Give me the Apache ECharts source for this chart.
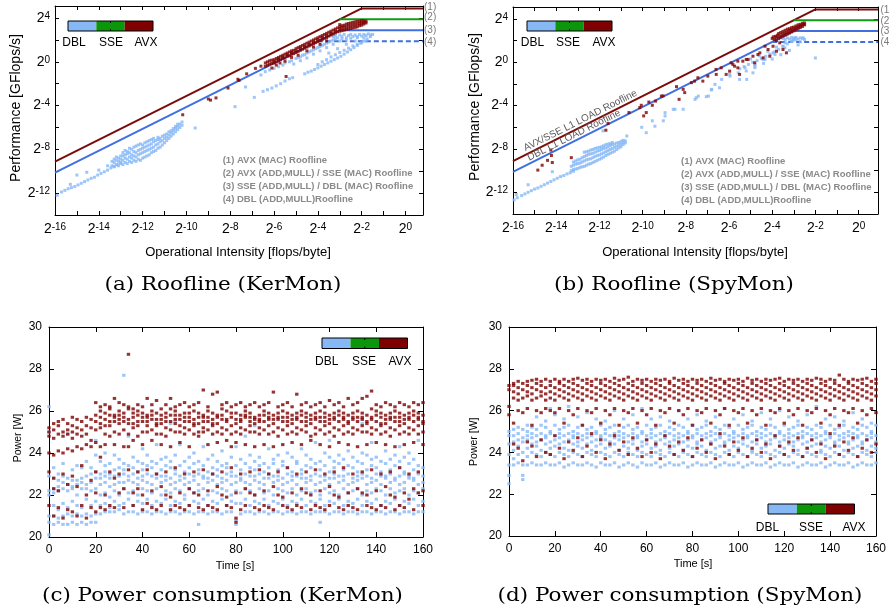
<!DOCTYPE html>
<html>
<head>
<meta charset="utf-8">
<script src="https://cdn.jsdelivr.net/npm/echarts@6/dist/echarts.min.js"></script>
<style>
  html, body { margin: 0; padding: 0; background: #ffffff; }
  #chart { width: 889px; height: 614px; }
</style>
</head>
<body>
<div id="chart"></div>
<script>
// ---------- legend entries ----------
const seriesNames = ['DBL', 'SSE', 'AVX'];
const seriesColors = ['#86b8f6', '#0b960b', '#7e0000'];

// ---------- roofline model (log2 units) ----------
// ceilings in log2 GFlops/s: (1) AVX MAC, (2) AVX ADD,MULL / SSE MAC, (3) SSE ADD,MULL / DBL MAC, (4) DBL ADD,MULL
const roofCeilLog2 = [4.88, 3.88, 2.88, 1.88];
// L1 load bandwidth in log2 GB/s: AVX/SSE, DBL
const roofBwLog2 = [6.88, 5.88];
const roofNotes = [
  '(1) AVX (MAC) Roofline',
  '(2) AVX (ADD,MULL) / SSE (MAC) Roofline',
  '(3) SSE (ADD,MULL) / DBL (MAC) Roofline',
  '(4) DBL (ADD,MULL)Roofline'
];
const roofTags = ['(1)', '(2)', '(3)', '(4)'];

// ---------- KerMon roofline samples: [log2 intensity, log2 GFlops/s] ----------
const kerRoofDbl = [
  [-15.9,-12.2],[-15.7,-11.9],[-15.55,-11.75],[-15.4,-11.6],[-15.25,-11.5],[-15.1,-11.4],[-14.95,-11.25],[-14.8,-11.1],
  [-14.65,-10.95],[-14.5,-10.8],[-14.35,-10.65],[-14.2,-10.55],[-14.05,-10.35],[-13.9,-10.2],[-13.75,-10.05],[-13.6,-9.9],
  [-13.45,-9.7],[-13.3,-9.55],[-13.15,-9.4],[-13.0,-9.2],
  [-15.3,-11.2],[-15.0,-10.35],[-14.55,-10.1],[-14.0,-9.9],[-13.6,-9.5],
  [-13.4,-9.5],[-13.4,-9.1],[-13.3,-9.6],[-13.3,-9.2],[-13.3,-8.9],[-13.2,-9.4],[-13.2,-9.0],[-13.2,-8.7],
  [-13.1,-9.5],[-13.1,-9.1],[-13.1,-8.8],[-13.0,-9.3],[-13.0,-8.9],[-13.0,-8.6],
  [-12.9,-9.4],[-12.9,-9.0],[-12.9,-8.6],[-12.9,-8.3],[-12.8,-9.2],[-12.8,-8.8],[-12.8,-8.5],[-12.8,-8.1],
  [-12.7,-9.3],[-12.7,-8.9],[-12.7,-8.4],[-12.7,-8.2],[-12.6,-9.1],[-12.6,-8.7],[-12.6,-8.3],[-12.6,-7.9],
  [-12.5,-9.2],[-12.5,-8.8],[-12.5,-8.5],[-12.5,-8.0],[-12.4,-9.0],[-12.4,-8.6],[-12.4,-8.2],[-12.4,-7.8],
  [-12.3,-9.1],[-12.3,-8.7],[-12.3,-8.3],[-12.3,-7.7],[-12.2,-8.9],[-12.2,-8.5],[-12.2,-8.1],[-12.2,-7.6],
  [-12.1,-9.0],[-12.1,-8.4],[-12.1,-8.0],[-12.1,-7.5],[-12.0,-8.8],[-12.0,-8.3],[-12.0,-7.9],[-12.0,-7.6],
  [-11.9,-8.7],[-11.9,-8.2],[-11.9,-7.8],[-11.9,-7.4],[-11.8,-8.6],[-11.8,-8.1],[-11.8,-7.7],[-11.8,-7.3],
  [-11.7,-8.5],[-11.7,-8.0],[-11.7,-7.6],[-11.7,-7.2],[-11.6,-8.3],[-11.6,-7.9],[-11.6,-7.5],[-11.6,-7.1],
  [-11.5,-8.2],[-11.5,-7.8],[-11.5,-7.3],[-11.5,-7.0],[-11.4,-8.1],[-11.4,-7.6],[-11.4,-7.2],
  [-11.3,-7.9],[-11.3,-7.5],[-11.3,-7.1],[-11.3,-6.9],[-11.2,-7.8],[-11.2,-7.3],[-11.2,-7.0],
  [-11.1,-7.6],[-11.1,-7.2],[-11.1,-6.8],[-11.0,-7.4],[-11.0,-7.0],[-11.0,-6.7],
  [-10.9,-7.2],[-10.9,-6.9],[-10.9,-6.6],[-10.8,-7.0],[-10.8,-6.7],[-10.8,-6.4],
  [-10.7,-6.8],[-10.7,-6.5],[-10.7,-6.3],[-10.6,-6.6],[-10.6,-6.3],[-10.6,-6.1],
  [-10.5,-6.4],[-10.5,-6.1],[-10.5,-5.9],[-10.4,-6.2],[-10.4,-5.9],[-10.4,-5.7],
  [-10.3,-6.0],[-10.3,-5.7],[-10.2,-5.8],[-10.2,-5.5],
  [-9.6,-6.05],[-7.78,-4.1],[-7.3,-2.3],[-6.9,-3.25],
  [-6.5,-2.7],[-6.3,-2.55],[-6.1,-2.4],[-5.9,-2.2],[-5.7,-2.0],[-5.5,-1.75],[-5.3,-1.55],[-5.15,-1.45],
  [-4.6,-1.1],[-4.45,-0.95],[-4.3,-0.85],[-4.15,-0.7],[-4.0,-0.55],[-3.85,-0.4],[-3.7,-0.25],[-3.55,-0.1],
  [-3.4,0.05],[-3.25,0.2],[-3.1,0.35],[-2.95,0.5],[-2.8,0.7],[-2.65,0.9],[-2.5,1.1],[-2.35,1.3],
  [-2.2,1.5],[-2.05,1.7],[-1.9,1.9],[-1.75,2.1],[-1.6,2.3],
  [-6.6,-1.2],[-6.4,-0.9],[-6.2,-0.75],[-6.0,-0.6],[-5.8,-0.45],[-5.6,-0.3],[-5.5,-0.1],[-5.3,0.0],
  [-5.2,0.1],[-5.0,0.3],[-4.9,0.4],[-4.8,0.45],[-4.7,0.6],[-4.6,0.65],[-4.5,0.8],[-4.4,0.9],
  [-4.3,1.0],[-4.2,1.1],[-4.1,1.2],[-4.0,1.3],[-3.9,1.4],[-3.8,1.5],[-3.7,1.6],[-3.6,1.7],
  [-3.5,1.8],[-3.4,1.9],[-3.3,2.0],[-3.2,2.1],
  [-5.1,-0.2],[-4.8,0.1],[-4.5,0.35],[-4.2,0.7],[-3.9,1.0],[-3.6,1.3],[-3.3,1.6],[-3.0,1.9],[-2.7,2.0],
  [-4.0,-0.25],[-3.8,0.0],[-3.6,0.2],[-3.4,0.45],[-3.2,0.65],[-3.0,0.85],[-2.8,1.05],[-2.6,1.25],
  [-2.4,1.45],[-2.2,1.6],[-2.0,1.75],[-1.8,1.9],[-3.5,0.8],[-3.1,1.2],[-2.7,1.6],[-2.3,1.9],
  [-3.3,2.3],[-3.2,2.4],[-3.1,2.2],[-3.0,2.45],[-2.9,2.3],[-2.8,2.5],[-2.7,2.2],[-2.6,2.4],
  [-2.5,2.5],[-2.4,2.3],[-2.3,2.45],[-2.2,2.2],[-2.1,2.5],[-2.0,2.35],[-1.9,2.5],[-1.8,2.4],
  [-1.7,2.55],[-1.6,2.45],[-1.5,2.5],[-2.9,2.1],[-2.5,2.15],[-2.2,2.3],[-1.9,2.2]
];
const kerRoofAvx = [
  [-10.17,-4.84],[-9.0,-3.4],[-8.9,-3.5],[-8.65,-3.3],[-8.1,-2.4],[-7.65,-1.6],[-7.6,-1.7],[-7.25,-1.1],
  [-6.85,-0.6],[-6.6,-0.4],[-6.1,-0.57],[-5.45,-1.34],[-5.73,-0.11],
  [-6.4,-0.4],[-6.4,-0.1],[-6.3,-0.3],[-6.3,0.0],[-6.2,-0.2],[-6.2,0.1],[-6.1,-0.15],[-6.1,0.15],
  [-6.0,-0.1],[-6.0,0.2],[-6.0,0.0],[-5.9,0.0],[-5.9,0.3],[-5.8,0.1],[-5.8,0.4],[-5.8,0.25],
  [-5.7,0.2],[-5.7,0.5],[-5.6,0.3],[-5.6,0.6],[-5.6,0.45],[-5.5,0.35],[-5.5,0.7],
  [-5.4,0.5],[-5.4,0.8],[-5.4,0.65],[-5.3,0.55],[-5.3,0.9],[-5.2,0.7],[-5.2,1.0],[-5.2,0.85],
  [-5.1,0.75],[-5.1,1.05],[-5.0,0.85],[-5.0,1.2],[-5.0,1.0],[-4.9,0.95],[-4.9,1.3],
  [-4.8,1.05],[-4.8,1.4],[-4.8,1.2],[-4.7,1.15],[-4.7,1.5],[-4.6,1.25],[-4.6,1.6],[-4.6,1.4],
  [-4.5,1.35],[-4.5,1.7],[-4.4,1.45],[-4.4,1.8],[-4.4,1.6],[-4.3,1.55],[-4.3,1.9],
  [-4.2,1.65],[-4.2,2.0],[-4.2,1.8],[-4.1,1.75],[-4.1,2.1],[-4.0,1.85],[-4.0,2.2],[-4.0,2.0],
  [-3.9,1.95],[-3.9,2.3],[-3.8,2.05],[-3.8,2.4],[-3.8,2.2],[-3.7,2.15],[-3.7,2.5],
  [-3.6,2.2],[-3.6,2.6],[-3.6,2.4],[-3.5,2.35],[-3.5,2.7],[-3.4,2.45],[-3.4,2.8],[-3.4,2.6],
  [-3.3,2.55],[-3.3,2.9],[-3.2,2.65],[-3.2,3.0],[-3.2,2.8],[-3.1,2.75],[-3.1,3.1],
  [-3.0,2.8],[-3.0,3.2],[-3.0,3.4],[-3.0,3.0],[-2.9,2.85],[-2.9,3.3],[-2.9,3.1],
  [-2.8,2.9],[-2.8,3.35],[-2.8,3.15],[-2.7,2.95],[-2.7,3.45],[-2.7,3.2],[-2.6,3.0],[-2.6,3.5],[-2.6,3.25],
  [-2.5,3.05],[-2.5,3.55],[-2.5,3.3],[-2.4,3.1],[-2.4,3.6],[-2.4,3.35],[-2.3,3.15],[-2.3,3.65],[-2.3,3.4],
  [-2.2,3.2],[-2.2,3.7],[-2.2,3.45],[-2.1,3.3],[-2.1,3.7],[-2.1,3.5],[-2.0,3.35],[-2.0,3.75],[-2.0,3.55],
  [-1.9,3.45],[-1.9,3.75],[-1.9,3.6],[-1.8,3.55],[-1.8,3.7],
  [-5.9,-0.3],[-5.5,0.05],[-5.2,0.4],[-4.9,0.6],[-4.5,1.0],[-4.2,1.35],[-3.9,1.6],[-3.6,1.9]
];

// ---------- SpyMon roofline samples: [log2 intensity, log2 GFlops/s] ----------
const spyRoofDbl = [
  [-15.95,-12.7],[-15.8,-12.5],[-15.6,-12.3],[-15.45,-12.15],[-15.3,-12.0],[-15.15,-11.85],[-15.0,-11.7],
  [-14.85,-11.6],[-14.7,-11.45],[-14.55,-11.3],[-14.4,-11.15],[-14.25,-11.0],[-14.1,-10.85],[-13.95,-10.7],
  [-13.8,-10.55],[-13.65,-10.45],[-13.5,-10.3],[-13.35,-10.2],[-13.2,-10.05],
  [-15.3,-11.3],[-14.18,-10.1],[-15.85,-12.2],
  [-13.3,-10.0],[-13.3,-9.6],[-13.2,-9.9],[-13.2,-9.5],[-13.2,-9.2],[-13.1,-9.85],[-13.1,-9.4],[-13.1,-9.1],
  [-13.0,-9.8],[-13.0,-9.35],[-13.0,-9.0],[-12.9,-9.7],[-12.9,-9.3],[-12.9,-8.95],[-12.8,-9.65],[-12.8,-9.2],[-12.8,-8.8],
  [-12.7,-9.6],[-12.7,-9.1],[-12.7,-8.7],[-12.7,-8.3],[-12.6,-9.5],[-12.6,-9.0],[-12.6,-8.6],[-12.6,-8.25],
  [-12.5,-9.4],[-12.5,-8.95],[-12.5,-8.5],[-12.5,-8.2],[-12.4,-9.35],[-12.4,-8.9],[-12.4,-8.45],[-12.4,-8.1],
  [-12.3,-9.25],[-12.3,-8.8],[-12.3,-8.4],[-12.3,-8.05],[-12.2,-9.15],[-12.2,-8.7],[-12.2,-8.3],[-12.2,-7.95],
  [-12.1,-9.05],[-12.1,-8.6],[-12.1,-8.2],[-12.1,-7.9],[-12.0,-8.95],[-12.0,-8.55],[-12.0,-8.15],[-12.0,-7.85],
  [-11.9,-8.85],[-11.9,-8.45],[-11.9,-8.05],[-11.9,-7.8],[-11.8,-8.75],[-11.8,-8.35],[-11.8,-7.95],[-11.8,-7.7],
  [-11.7,-8.6],[-11.7,-8.25],[-11.7,-7.9],[-11.7,-7.6],[-11.6,-8.5],[-11.6,-8.15],[-11.6,-7.8],[-11.6,-7.55],
  [-11.5,-8.4],[-11.5,-8.05],[-11.5,-7.7],[-11.5,-7.5],[-11.4,-8.3],[-11.4,-7.95],[-11.4,-7.6],[-11.4,-7.4],
  [-11.3,-8.2],[-11.3,-7.85],[-11.3,-7.55],[-11.2,-8.05],[-11.2,-7.75],[-11.2,-7.45],
  [-11.1,-7.9],[-11.1,-7.65],[-11.1,-7.4],[-11.0,-7.8],[-11.0,-7.55],[-11.0,-7.3],
  [-10.9,-7.6],[-10.9,-7.4],[-10.9,-7.2],[-10.8,-7.45],[-10.8,-7.25],
  [-11.83,-6.33],[-10.73,-6.8],[-10.04,-6.0],[-9.83,-6.5],[-9.55,-5.4],[-9.43,-5.9],
  [-9.04,-5.4],[-8.96,-4.65],[-8.96,-4.95],[-8.5,-4.34],[-8.58,-4.34],[-8.12,-4.34],[-7.57,-3.42],[-7.51,-3.27],
  [-7.42,-3.12],[-7.05,-3.17],[-6.95,-3.12],[-6.8,-2.5],[-6.82,-2.55],[-6.65,-2.04],[-6.44,-2.35],[-6.34,-1.58],
  [-5.97,-1.12],[-5.95,-1.28],[-5.57,-0.97],[-5.51,-1.58],[-5.26,-0.51],[-5.18,-1.58],[-4.89,-0.97],[-4.8,-0.2],
  [-4.8,-0.36],[-4.42,0.26],[-4.33,0.26],[-3.96,0.87],[-3.87,0.72],[-3.5,1.48],[-3.41,1.33],[-3.1,1.94],
  [-3.04,2.1],[-2.95,2.25],[-2.56,2.25],[-2.0,0.4],
  [-5.5,-0.6],[-5.3,-0.4],[-5.1,-0.2],[-4.9,0.0],[-4.7,0.15],[-4.5,0.35],[-4.3,0.55],[-4.1,0.75],
  [-3.9,0.95],[-3.7,1.2],[-3.5,1.45],[-3.3,1.7],[-3.1,1.95],[-2.9,2.1],
  [-5.2,-0.8],[-4.8,-0.5],[-4.4,-0.1],[-4.0,0.3],[-3.6,0.7],[-3.2,1.1],[-2.8,1.6],[-2.7,1.9],
  [-5.0,0.3],[-4.6,0.6],[-4.2,1.0],[-3.8,1.4],[-3.4,1.8],[-3.0,2.05],
  [-3.7,2.15],[-3.5,2.2],[-3.4,2.1],[-3.3,2.25],[-3.2,2.15],[-3.1,2.3],[-3.0,2.2],[-2.9,2.3],
  [-2.8,2.15],[-2.7,2.25],[-2.6,2.2],[-2.5,2.1]
];
const spyRoofAvx = [
  [-14.85,-9.95],[-14.65,-9.5],[-14.4,-9.05],[-14.22,-8.6],[-14.18,-9.25],[-14.25,-8.1],[-13.3,-8.8],
  [-11.7,-6.27],[-11.6,-5.65],[-10.63,-4.64],[-10.13,-4.18],[-10.06,-3.97],[-9.95,-4.95],[-9.83,-4.64],
  [-9.71,-3.67],[-9.55,-3.97],[-9.4,-3.58],[-9.13,-3.12],[-9.05,-3.1],[-8.43,-2.25],[-8.12,-2.5],[-8.31,-3.42],
  [-8.05,-2.8],[-7.74,-1.88],[-7.59,-1.74],[-7.44,-1.43],[-7.21,-1.74],[-6.98,-1.28],[-6.59,-1.12],[-6.36,-0.51],
  [-6.13,-1.12],[-5.97,-0.82],[-5.82,-0.2],[-5.59,-0.51],[-5.36,0.1],[-5.51,-1.12],[-5.12,0.26],[-4.89,0.56],
  [-4.81,-0.05],[-4.57,0.87],[-4.42,0.41],[-4.19,1.18],[-4.11,0.56],[-3.96,1.48],[-3.8,1.02],[-3.65,1.79],
  [-3.5,1.18],[-3.34,0.87],[-6.6,-0.66],[-5.9,-0.05],[-5.74,-0.36],[-5.59,0.1],[-5.2,0.26],[-4.66,0.72],[-4.33,1.48],
  [-4.0,2.2],[-3.95,2.35],[-3.9,2.1],[-3.85,2.4],[-3.8,2.0],[-3.8,2.3],[-3.75,2.5],[-3.7,2.2],[-3.7,2.65],
  [-3.65,2.4],[-3.6,2.3],[-3.6,2.75],[-3.55,2.55],[-3.5,2.4],[-3.5,2.85],[-3.45,2.65],[-3.4,2.5],[-3.4,2.95],
  [-3.35,2.75],[-3.3,2.6],[-3.3,3.05],[-3.25,2.85],[-3.2,2.7],[-3.2,3.1],[-3.15,2.95],[-3.1,2.8],[-3.1,3.2],
  [-3.05,3.0],[-3.0,2.9],[-3.0,3.25],[-2.95,3.1],[-2.9,3.0],[-2.9,3.35],[-2.85,3.2],[-2.8,3.1],[-2.8,3.45],
  [-2.75,3.3],[-2.7,3.2],[-2.7,3.5],[-2.65,3.4],[-2.6,3.3],[-2.6,3.6],[-2.55,3.5],[-2.5,3.45],[-2.5,3.62]
];

// ---------- power traces: each row is [time s, watts, watts, ...] ----------
const kerPowerDbl = [
  [0,20.1,20.7,21.0,22.0,22.2,22.9,25.0,26.2],[2,20.6,21.0,21.5,22.1,22.3,22.8,23.3],[4,20.7,20.9,21.3,22.2,22.4,22.7,23.0],
  [6,20.6,21.0,21.6,22.3,22.6,22.9,23.5],[8,20.6,21.1,21.4,22.2,22.5,22.8,24.9],[10,20.7,21.0,21.7,22.3,22.4,22.7,23.2],
  [12,20.6,21.1,21.5,22.0,22.5,22.7,23.4],[14,20.7,21.0,21.4,22.3,22.6,22.8,23.3],[16,20.6,21.1,21.8,22.3,22.5,22.9,23.6],
  [18,20.7,21.0,21.5,22.2,22.6,23.0,23.3],[20,20.7,21.1,21.7,22.3,22.8,23.1,23.9,24.6],[22,21.1,21.5,22.0,22.5,22.8,23.0,23.6],
  [24,21.2,21.6,22.1,22.6,22.9,23.1,23.4,24.0],[26,21.2,21.4,21.9,22.4,22.8,23.0,23.5],[28,21.2,21.7,22.2,22.5,22.9,23.2,23.9],
  [30,21.3,21.5,22.0,22.6,22.9,23.3,23.7],[32,21.1,21.6,22.3,22.6,23.0,23.2,23.5,27.7],[34,21.2,21.8,22.1,22.7,22.9,23.4,24.8],
  [36,21.2,21.5,22.2,22.6,23.0,23.3,23.8],[38,21.1,21.7,22.0,22.5,22.8,23.1,23.6],[40,21.2,21.6,22.3,22.7,22.9,23.2,23.5,24.2],
  [42,21.2,21.8,22.2,22.6,23.0,23.4,23.9],[44,21.1,21.5,22.1,22.5,22.9,23.3,23.6],[46,21.2,21.7,22.3,22.8,23.0,23.5,24.4],
  [48,21.2,21.6,22.0,22.6,22.9,23.2,23.7],[50,21.1,21.8,22.2,22.7,22.9,23.4,23.8],[52,21.2,21.5,22.1,22.5,22.8,23.3,23.6,25.4],
  [54,21.2,21.7,22.3,22.6,23.0,23.2,23.9,25.5],[56,21.1,21.6,22.2,22.7,22.9,23.4,24.4],[58,21.2,21.8,22.0,22.5,22.8,23.1,23.6],
  [60,21.2,21.5,22.3,22.6,23.0,23.3,23.8],[62,21.1,21.7,22.1,22.7,22.9,23.5,24.0],[64,20.6,21.2,21.6,22.2,22.5,23.0,23.2,23.6],
  [66,21.2,21.8,22.3,22.8,22.9,23.4,24.3],[68,21.1,21.5,22.0,22.6,22.8,23.1,23.7],[70,21.2,21.7,22.2,22.7,23.0,23.3,23.9],
  [72,21.2,21.6,22.1,22.5,22.9,23.2,23.6],[74,21.1,21.8,22.3,22.6,22.8,23.4,24.1],[76,21.2,21.5,22.2,22.7,23.0,23.3,23.5],
  [78,21.2,21.7,22.0,22.5,22.9,23.1,23.8],[80,20.6,20.8,21.6,22.2,22.6,22.9,23.4,24.3],[82,21.1,21.6,22.1,22.7,22.8,23.2,23.7],
  [84,21.2,21.8,22.3,22.6,23.0,23.5,24.8],[86,21.2,21.5,22.2,22.5,22.9,23.3,23.9],[88,21.1,21.7,22.0,22.7,22.9,23.2,23.6,25.3],
  [90,21.2,21.6,22.3,22.6,23.0,23.4,23.8],[92,21.2,21.8,22.1,22.5,22.8,23.1,23.5],[94,21.1,21.5,22.2,22.8,23.0,23.3,24.2],
  [96,21.2,21.7,22.0,22.6,22.9,23.5,23.7],[98,21.2,21.6,22.3,22.7,22.9,23.2,23.9],[100,21.1,21.8,22.2,22.5,22.8,23.4,23.6],
  [102,21.2,21.5,22.1,22.6,23.0,23.3,24.0],[104,21.2,21.7,22.3,22.7,22.9,23.1,23.8],[106,21.1,21.6,22.0,22.5,22.9,23.5,23.6],
  [108,21.2,21.8,22.2,22.8,23.0,23.2,24.2],[110,21.2,21.5,22.3,22.6,22.8,23.4,23.9],[112,21.1,21.7,22.1,22.7,22.9,23.3,23.7],
  [114,21.2,21.6,22.2,22.5,23.0,23.5,24.5],[116,20.7,21.2,21.8,22.0,22.6,22.9,23.2,23.6],[118,21.2,21.5,22.3,22.7,22.9,23.4,24.0],
  [120,21.1,21.7,22.1,22.5,22.8,23.1,23.8,24.6],[122,21.2,21.6,22.2,22.8,23.0,23.3,23.6],[124,21.2,21.8,22.0,22.6,22.9,23.5,23.9],
  [126,21.1,21.5,22.3,22.7,22.9,23.2,23.7],[128,21.2,21.7,22.1,22.5,23.0,23.4,24.1],[130,21.2,21.6,22.2,22.6,22.8,23.3,23.8],
  [132,21.1,21.8,22.3,22.7,22.9,23.1,23.6],[134,21.2,21.5,22.0,22.8,23.0,23.5,24.0,25.4],[136,21.2,21.7,22.2,22.5,22.9,23.2,23.9],
  [138,21.1,21.6,22.1,22.6,22.8,23.4,23.7,24.5],[140,21.2,21.8,22.3,22.7,23.0,23.3,23.8],[142,21.2,21.5,22.2,22.5,22.9,23.1,23.6],
  [144,21.1,21.7,22.0,22.8,22.9,23.5,24.1],[146,21.2,21.6,22.3,22.6,23.0,23.2,23.7],[148,21.2,21.8,22.1,22.7,22.8,23.4,23.9],
  [150,21.1,21.5,22.2,22.5,22.9,23.3,23.6,24.3],[152,21.2,21.7,22.3,22.6,23.0,23.1,23.8],[154,21.2,21.6,22.0,22.8,22.9,23.5,24.0],
  [156,21.1,21.8,22.2,22.7,22.8,23.2,23.7],[158,21.2,21.5,22.1,22.5,23.0,23.4,24.6],[160,21.2,21.7,22.3,22.6,22.9,23.3]
];
const kerPowerAvx = [
  [0,24.0,24.8,25.0,25.2,23.1,21.5],[2,23.9,24.7,25.1,25.4,22.8,22.3,21.0],[4,24.1,24.9,25.3,25.5,22.2,21.4],
  [6,24.0,24.8,25.0,25.6,23.0,20.9],[8,24.2,24.9,25.1,25.4,22.5,21.3],[10,24.1,24.7,25.0,25.3,25.7,22.9,21.2],
  [12,24.3,24.9,25.2,25.6,22.4,21.0],[14,24.2,24.8,25.1,25.5,23.4,21.5],[16,24.4,24.9,25.3,25.7,22.0,20.9],
  [18,24.3,24.6,25.2,25.6,22.7,21.4],[20,24.5,25.1,25.5,25.8,26.4,23.1,22.1,21.2],[22,24.3,25.2,25.7,26.0,26.2,25.4,23.8,21.4],
  [24,24.4,24.9,25.6,25.9,26.3,25.3,22.0,21.3],[26,24.8,25.3,25.5,26.1,26.2,25.8,23.1,21.5],[28,24.4,25.0,25.7,25.8,26.6,25.5,22.8,21.4],
  [30,24.9,25.4,25.8,26.0,26.4,25.6,23.0,22.1],[32,24.3,25.1,25.5,25.9,26.3,25.7,22.3,21.4],[34,24.3,24.9,25.6,26.1,26.2,25.4,28.7,23.2],
  [36,24.6,25.2,25.4,25.7,26.1,25.9,22.1,21.5],[38,24.8,25.3,25.8,26.0,26.3,25.5,23.1,22.3],[40,24.4,25.0,25.5,25.9,26.2,25.7,22.0,21.3],
  [42,25.0,25.3,25.7,25.8,26.6,25.5,23.2,21.6],[44,24.6,25.1,25.6,26.0,26.3,25.8,22.2,21.4],[46,24.9,25.4,25.6,25.9,26.5,25.3,23.0,21.3],
  [48,24.4,24.9,25.4,25.8,26.1,25.6,22.4,21.5],[50,24.8,25.2,25.7,25.9,26.3,25.5,23.1,22.0],[52,24.3,25.1,25.5,26.1,26.6,25.8,21.9,21.3],
  [54,25.0,25.4,25.8,26.0,26.2,25.6,23.3,21.5],[56,24.5,25.0,25.3,25.8,26.3,25.6,22.1,21.4],[58,24.9,25.2,25.7,25.9,26.4,25.5,23.0,21.3],
  [60,24.3,25.1,25.5,25.7,26.2,25.9,22.3,21.5],[62,24.9,25.3,25.6,26.0,26.3,25.4,23.1,22.1],[64,24.8,25.0,25.4,25.9,26.4,25.7,22.0,21.4],
  [66,25.0,25.2,25.7,25.8,27.0,25.5,23.2,21.3],[68,24.4,25.1,25.5,26.0,26.2,25.7,22.2,21.5],[70,24.9,25.3,25.6,25.9,26.8,25.4,23.0,21.4],
  [72,24.5,25.0,25.4,25.7,26.9,25.8,22.4,21.3],[74,24.9,25.2,25.6,25.8,26.3,26.1,23.1,22.0],[76,24.6,25.1,25.5,26.0,26.4,25.6,21.9,21.5],
  [78,24.3,24.9,25.3,25.7,26.2,25.9,23.3,21.4],[80,24.5,25.0,25.4,25.9,26.3,25.6,22.1,20.7,20.9],[82,24.9,25.2,25.6,25.8,26.4,25.5,23.0,21.3],
  [84,24.4,25.1,25.7,26.0,26.2,25.8,22.3,21.5],[86,25.0,25.3,25.5,25.9,26.3,25.7,23.1,22.1],[88,24.3,25.0,25.4,25.7,26.4,25.6,22.0,21.4],
  [90,24.9,25.2,25.6,25.8,26.2,25.5,23.2,21.3],[92,24.4,25.1,25.5,26.0,26.3,25.8,22.2,21.5],[94,24.9,25.3,25.7,25.9,26.4,25.6,23.0,21.4],
  [96,24.3,25.0,25.4,25.8,26.9,25.6,22.4,21.3],[98,24.8,25.2,25.6,25.7,26.2,25.9,23.1,22.0],[100,24.4,25.1,25.5,26.0,26.3,25.7,21.9,21.5],
  [102,24.9,25.3,25.7,25.9,26.4,25.5,23.3,21.4],[104,24.5,25.0,25.4,25.8,26.2,25.6,22.1,21.3],[106,24.9,25.2,25.6,25.7,26.8,25.9,23.0,21.5],
  [108,24.4,25.1,25.5,26.0,26.3,25.8,22.3,21.4],[110,25.0,25.3,25.7,25.9,26.4,25.5,23.1,22.1],[112,24.6,24.8,25.4,25.8,26.2,25.6,22.0,21.3],
  [114,24.9,25.2,25.6,25.7,26.3,25.9,23.2,21.5],[116,24.4,25.1,25.5,26.0,26.4,25.7,22.2,21.4],[118,24.9,25.3,25.7,25.9,26.2,25.5,23.0,21.3],
  [120,24.3,25.0,25.4,25.8,26.5,25.6,22.4,21.5],[122,24.8,25.2,25.6,25.7,26.3,25.9,23.1,22.0],[124,24.5,25.1,25.5,26.0,26.4,25.8,21.9,21.4],
  [126,24.9,25.3,25.7,25.9,26.2,25.6,23.3,21.3],[128,24.4,25.0,25.4,25.8,26.6,25.5,22.1,21.5],[130,24.9,25.2,25.6,25.7,26.3,25.9,23.0,21.4],
  [132,24.3,25.1,25.5,26.0,26.4,25.7,22.3,21.3],[134,25.0,25.3,25.7,25.9,26.6,25.6,23.1,22.1],[136,24.4,25.0,25.4,25.8,26.7,25.5,22.0,21.5],
  [138,24.9,25.2,25.6,25.7,26.95,26.1,23.2,21.4],[140,24.5,25.1,25.5,26.0,26.3,25.8,22.2,21.3],[142,24.9,25.3,25.7,25.9,26.2,25.4,23.0,21.5],
  [144,24.4,25.0,25.4,25.8,26.4,25.6,22.4,21.4],[146,24.8,25.2,25.6,25.7,26.3,25.9,23.1,22.0],[148,24.3,25.1,25.5,26.0,26.2,25.7,21.9,21.3],
  [150,24.9,25.3,25.7,25.9,26.4,25.5,23.3,21.5],[152,24.4,25.0,25.4,25.8,26.3,25.6,22.1,21.4],[154,24.9,25.2,25.6,25.7,26.2,25.9,23.0,21.8],
  [156,24.5,25.1,25.5,26.0,26.4,25.8,22.3,21.3],[158,24.9,25.3,25.7,25.9,26.3,25.6,23.1,22.1],[160,24.4,25.0,25.4,25.8,26.4,25.5,22.2,21.5]
];
const spyPowerDbl = [
  [0,22.5,22.9,23.4,23.9,24.4,24.8,25.0],[2,23.4,23.7,24.1,24.5,24.8,25.1],[4,23.5,23.9,24.3,24.6,24.9,25.2],
  [6,22.7,22.9,23.4,24.0,24.5,24.7,25.1],[8,23.4,23.8,24.2,24.6,24.8,25.0,25.3],[10,23.5,24.0,24.4,24.7,24.9,25.2],
  [12,23.4,23.9,24.3,24.5,24.8,25.1,25.7],[14,23.4,23.8,24.1,24.6,24.9,25.3],[16,23.5,24.0,24.4,24.7,24.8,25.2,25.5],
  [18,23.4,23.9,24.2,24.5,24.9,25.0,26.1],[20,23.4,23.8,24.3,24.6,24.8,25.3,25.8],[22,23.5,24.0,24.4,24.7,24.9,25.1],
  [24,23.3,23.9,24.2,24.5,24.8,25.2,25.6],[26,23.4,23.8,24.1,24.6,24.9,25.3,26.2],[28,23.5,24.0,24.4,24.7,24.8,25.0],
  [30,23.4,23.9,24.3,24.5,24.9,25.2,25.7],[32,23.4,23.8,24.2,24.6,24.8,25.3],[34,23.5,24.0,24.4,24.7,24.9,25.1,25.9],
  [36,23.4,23.9,24.1,24.5,24.8,25.2],[38,23.3,23.8,24.3,24.6,24.9,25.0,25.6],[40,23.5,24.0,24.4,24.7,24.8,25.3],
  [42,23.4,23.9,24.2,24.6,24.9,25.1,25.5],[44,23.4,23.8,24.3,24.5,24.8,25.2],[46,23.5,24.0,24.4,24.7,24.9,25.3,26.0],
  [48,23.3,23.9,24.1,24.6,24.8,25.0],[50,23.4,23.8,24.3,24.7,24.9,25.2,25.6],[52,23.5,24.0,24.2,24.5,24.8,25.3],
  [54,23.4,23.9,24.4,24.6,24.9,25.1,25.8],[56,23.3,23.8,24.1,24.7,24.8,25.2],[58,23.5,24.0,24.3,24.5,24.9,25.0,26.1],
  [60,23.4,23.9,24.4,24.6,24.8,25.3],[62,23.4,23.8,24.2,24.7,24.9,25.1,25.6],[64,23.5,24.0,24.3,24.5,24.8,25.2],
  [66,23.3,23.9,24.1,24.6,24.9,25.3,25.7],[68,23.4,23.8,24.4,24.7,24.8,25.0],[70,23.5,24.0,24.2,24.5,24.9,25.2,25.5],
  [72,23.4,23.9,24.3,24.6,24.8,25.1],[74,23.4,23.8,24.4,24.7,24.9,25.3,26.0],[76,23.5,24.0,24.1,24.5,24.8,25.2],
  [78,23.3,23.9,24.3,24.6,24.9,25.0,25.6],[80,23.4,23.8,24.2,24.7,24.8,25.3],[82,23.5,24.0,24.4,24.5,24.9,25.1,25.8],
  [84,23.4,23.9,24.3,24.6,24.8,25.2],[86,23.4,23.8,24.1,24.7,24.9,25.3,25.5],[88,23.5,24.0,24.4,24.5,24.8,25.0],
  [90,23.3,23.9,24.2,24.6,24.9,25.2,25.7],[92,23.4,23.8,24.3,24.7,24.8,25.1],[94,23.5,24.0,24.4,24.5,24.9,25.3,26.1],
  [96,23.4,23.9,24.1,24.6,24.8,25.2],[98,23.4,23.8,24.3,24.7,24.9,25.0,25.6],[100,23.5,24.0,24.2,24.5,24.8,25.3],
  [102,23.3,23.9,24.4,24.6,24.9,25.1,25.8],[104,23.4,23.8,24.3,24.7,24.8,25.2],[106,23.5,24.0,24.1,24.5,24.9,25.3,25.5],
  [108,23.4,23.9,24.4,24.6,24.8,25.0],[110,23.4,23.8,24.2,24.7,24.9,25.2,25.9],[112,23.5,24.0,24.3,24.5,24.8,25.1],
  [114,23.3,23.9,24.4,24.6,24.9,25.3,25.6],[116,23.4,23.8,24.1,24.7,24.8,25.2],[118,23.5,24.0,24.3,24.5,24.9,25.0,26.0],
  [120,23.4,23.9,24.2,24.6,24.8,25.3],[122,23.4,23.8,24.4,24.7,24.9,25.1,25.7],[124,23.5,24.0,24.3,24.5,24.8,25.2],
  [126,23.3,23.9,24.1,24.6,24.9,25.3,25.5],[128,23.4,23.8,24.4,24.7,24.8,25.0],[130,23.5,24.0,24.2,24.5,24.9,25.2,25.8],
  [132,23.4,23.9,24.3,24.6,24.8,25.1],[134,23.4,23.8,24.4,24.7,24.9,25.3,26.2],[136,23.5,24.0,24.1,24.5,24.8,25.2],
  [138,23.3,23.9,24.3,24.6,24.9,25.0,25.6],[140,23.4,23.8,24.2,24.7,24.8,25.3],[142,23.5,24.0,24.4,24.5,24.9,25.1,25.7],
  [144,23.4,23.9,24.3,24.6,24.8,25.2],[146,23.4,23.8,24.1,24.7,24.9,25.3,25.5],[148,23.5,24.0,24.4,24.5,24.8,25.0],
  [150,23.3,23.9,24.2,24.6,24.9,25.2,25.9],[152,23.4,23.8,24.3,24.7,24.8,25.1],[154,23.5,24.0,24.4,24.5,24.9,25.3,25.6],
  [156,23.4,23.9,24.1,24.6,24.8,25.2],[158,23.4,23.8,24.3,24.7,24.9,25.0,25.4],[160,23.5,24.0,24.2,24.5,24.8,25.3]
];
const spyPowerAvx = [
  [0,25.8,26.2,27.0,27.2],[2,24.4,25.4,26.6,26.9,27.2,27.3],[4,24.2,26.0,26.5,26.8,27.1,27.4],[6,23.6,25.9,26.6,27.0,27.3],
  [8,24.5,26.1,26.7,26.9,27.2,27.4],[10,24.3,25.3,26.5,26.8,27.1,27.45],[12,23.8,26.0,26.6,27.0,27.3,27.5],
  [14,24.6,25.9,26.7,26.9,27.2,27.4],[16,24.0,26.1,26.5,26.8,27.1,27.5],[18,23.9,26.0,26.6,26.9,27.2,27.4],
  [20,24.8,25.9,26.5,26.8,27.1,27.5],[22,24.2,26.1,26.7,27.0,27.3,27.4],[24,23.7,25.4,26.6,26.9,27.2,27.5],
  [26,24.5,26.0,26.5,26.8,27.1,27.4],[28,24.1,25.8,26.7,27.0,27.3,27.5],[30,24.7,26.1,26.6,26.9,27.2,27.55],
  [32,23.8,25.3,26.5,26.8,27.1,27.45],[34,24.3,26.0,26.7,27.0,27.3,27.5],[36,24.9,25.9,26.6,26.9,27.2,27.4],
  [38,24.0,26.1,26.5,26.8,27.1,27.5],[40,24.6,25.4,26.7,27.0,27.3,27.45],[42,23.7,26.0,26.6,26.9,27.2,27.5],
  [44,24.4,25.8,26.5,26.8,27.1,27.4],[46,24.8,26.1,26.7,27.0,27.3,27.55],[48,24.1,25.3,26.6,26.9,27.2,27.45],
  [50,24.5,26.0,26.5,26.8,27.1,27.5],[52,23.9,25.9,26.7,27.0,27.3,27.6],[54,24.7,26.1,26.6,26.9,27.2,27.4],
  [56,24.2,25.4,26.5,26.8,27.1,27.5],[58,23.8,26.0,26.7,27.0,27.3,27.45],[60,24.6,25.8,26.6,26.9,27.2,27.5],
  [62,24.0,26.1,26.5,26.8,27.1,27.4],[64,24.4,25.3,26.7,27.0,27.3,27.5],[66,23.7,26.0,26.6,26.9,27.2,27.45],
  [68,24.8,25.9,26.5,26.8,27.1,27.5],[70,24.3,26.1,26.7,27.0,27.3,27.4],[72,23.9,25.4,26.6,26.9,27.2,27.55],
  [74,24.5,26.0,26.5,26.8,27.1,27.45],[76,24.1,25.8,26.7,27.0,27.3,27.5],[78,24.7,26.1,26.6,26.9,27.2,27.4],
  [80,23.8,25.3,26.5,26.8,27.1,27.5],[82,24.2,26.0,26.7,27.0,27.3,27.45],[84,24.6,25.9,26.6,26.9,27.2,27.5],
  [86,24.0,26.1,26.5,26.8,27.1,27.4],[88,24.4,25.4,26.7,27.0,27.3,27.55],[90,23.7,26.0,26.6,26.9,27.2,27.45],
  [92,24.9,25.8,26.5,26.8,27.1,27.5],[94,24.3,26.1,26.7,27.0,27.3,27.4],[96,23.9,25.3,26.6,26.9,27.2,27.5],
  [98,24.5,26.0,26.5,26.8,27.1,27.45],[100,24.1,25.9,26.7,27.0,27.3,27.5],[102,24.7,26.1,26.6,26.9,27.2,27.4],
  [104,23.8,25.4,26.5,26.8,27.1,27.55],[106,24.2,26.0,26.7,27.0,27.3,27.45],[108,24.6,25.8,26.6,26.9,27.2,27.5],
  [110,24.0,26.1,26.5,26.8,27.1,27.4],[112,24.4,25.3,26.7,27.0,27.3,27.5],[114,23.7,26.0,26.6,26.9,27.2,27.45],
  [116,24.8,25.9,26.5,26.8,27.1,27.5],[118,24.3,26.1,26.7,27.0,27.3,27.55],[120,23.9,25.4,26.6,26.9,27.2,27.4],
  [122,24.5,26.0,26.5,26.8,27.1,27.5],[124,24.1,25.8,26.7,27.0,27.3,27.45],[126,24.7,26.1,26.6,26.9,27.2,27.5],
  [128,23.8,25.3,26.5,26.8,27.1,27.4],[130,24.2,26.0,26.7,27.0,27.3,27.5],[132,24.6,25.9,26.6,26.9,27.2,27.45],
  [134,24.0,26.1,26.5,26.8,27.1,27.55],[136,24.4,25.4,26.7,27.0,27.3,27.5],[138,23.7,26.0,26.6,26.9,27.2,27.4],
  [140,24.9,25.8,26.5,26.8,27.1,27.5],[142,24.3,26.1,26.7,27.0,27.3,27.45],[144,23.9,25.3,26.6,26.9,27.2,27.7],
  [146,24.5,26.0,26.5,26.8,27.1,27.5],[148,24.1,25.9,26.7,27.0,27.3,27.4],[150,24.7,26.1,26.6,26.9,27.2,27.5],
  [152,23.8,25.4,26.5,26.8,27.1,27.45],[154,24.2,26.0,26.7,27.0,27.3,27.5],[156,24.6,25.8,26.6,26.9,27.2,27.55],
  [158,24.0,26.1,26.5,26.8,27.1,27.4],[160,24.4,25.9,26.7,27.0,27.3,27.5]
];

// ---------- axis ranges ----------
const roofXRange = [[-16, 0.8], [-16, 0.9]];
const roofYRange = [-14, 5.1];
const timeRange = [0, 160];
const powerRange = [20, 30];

const SANS = '"Liberation Sans", Arial, Helvetica, sans-serif';
const SERIF = '"DejaVu Serif", "Liberation Serif", serif';
const roofColors = { avx: '#7a0c0c', sse: '#139a13', dbl: '#3f6fe0' };

const grids = [
  { left: 55, top: 6, width: 368, height: 209 },
  { left: 513, top: 7, width: 365, height: 207 },
  { left: 49, top: 327, width: 374, height: 210 },
  { left: 509, top: 327, width: 369, height: 209 }
];

// rich-text power-of-two tick label
const powRich = {
  b: { fontSize: 14, fontFamily: SANS, color: '#000', lineHeight: 14, padding: [3, 0, 0, 0], verticalAlign: 'bottom' },
  s: { fontSize: 10, fontFamily: SANS, color: '#000', lineHeight: 10, verticalAlign: 'top' }
};
function powLabel(step) {
  return function (v) {
    const r = Math.round(v);
    if (Math.abs(v - r) > 1e-6 || r % step !== 0) return '';
    return '{b|2}{s|' + r + '}';
  };
}

function frameAxes(g, kind, range, interval, labelCfg, tickLen) {
  const base = {
    gridIndex: g, type: 'value', min: range[0], max: range[1], interval: interval,
    axisLine: { show: true, onZero: false, lineStyle: { color: '#000', width: 1 } },
    axisTick: { show: true, inside: true, length: tickLen, lineStyle: { color: '#000', width: 1 } },
    splitLine: { show: false }
  };
  const main = Object.assign({}, base, { position: kind === 'x' ? 'bottom' : 'left', axisLabel: labelCfg });
  const mirror = Object.assign({}, base, { position: kind === 'x' ? 'top' : 'right', axisLabel: { show: false } });
  return [main, mirror];
}

const xAxes = [], yAxes = [];
// roofline panels
[0, 1].forEach(function (g) {
  xAxes.push.apply(xAxes, frameAxes(g, 'x', roofXRange[g], 1,
    { show: true, margin: 7, formatter: powLabel(2), rich: powRich }, 4));
  yAxes.push.apply(yAxes, frameAxes(g, 'y', roofYRange, 2,
    { show: true, margin: 5, formatter: powLabel(4), rich: powRich }, 4));
});
// power panels
[2, 3].forEach(function (g) {
  xAxes.push.apply(xAxes, frameAxes(g, 'x', timeRange, 20,
    { show: true, margin: 7, fontSize: 12, fontFamily: SANS, color: '#000' }, 5));
  yAxes.push.apply(yAxes, frameAxes(g, 'y', powerRange, 2,
    { show: true, margin: 7, fontSize: 12, fontFamily: SANS, color: '#000' }, 5));
});

function scatter(g, data, color, size, z) {
  return {
    type: 'scatter', xAxisIndex: 2 * g, yAxisIndex: 2 * g, data: data,
    symbol: 'rect', symbolSize: size, itemStyle: { color: color },
    silent: true, animation: false, z: z
  };
}
function roofLines(g) {
  const xr = roofXRange[g];
  const c = roofCeilLog2, bwHi = roofBwLog2[0], bwLo = roofBwLog2[1];
  function line(data, color, type) {
    return {
      type: 'line', xAxisIndex: 2 * g, yAxisIndex: 2 * g, data: data, symbol: 'none',
      lineStyle: { color: color, width: 2, type: type || 'solid' }, silent: true, animation: false, z: 1
    };
  }
  return [
    line([[xr[0], xr[0] + bwHi], [c[0] - bwHi, c[0]], [xr[1], c[0]]], roofColors.avx),
    line([[c[1] - bwHi, c[1]], [xr[1], c[1]]], roofColors.sse),
    line([[xr[0], xr[0] + bwLo], [c[2] - bwLo, c[2]], [xr[1], c[2]]], roofColors.dbl),
    line([[c[3] - bwLo, c[3]], [xr[1], c[3]]], roofColors.dbl, [5, 3])
  ];
}
function rowsToPoints(rows) {
  const out = [];
  rows.forEach(function (r) { for (let i = 1; i < r.length; i++) out.push([r[0], r[i]]); });
  return out;
}

const series = []
  .concat(roofLines(0), roofLines(1))
  .concat([
    scatter(0, kerRoofDbl, seriesColors[0], 3, 2),
    scatter(0, kerRoofAvx, seriesColors[2], 3, 3),
    scatter(1, spyRoofDbl, seriesColors[0], 3, 2),
    scatter(1, spyRoofAvx, seriesColors[2], 3, 3),
    scatter(2, rowsToPoints(kerPowerDbl), seriesColors[0], [3.4, 3], 2),
    scatter(2, rowsToPoints(kerPowerAvx), seriesColors[2], [3.4, 3], 3),
    scatter(3, rowsToPoints(spyPowerDbl), seriesColors[0], [3.4, 3], 2),
    scatter(3, rowsToPoints(spyPowerAvx), seriesColors[2], [3.4, 3], 3)
  ]);

const chart = echarts.init(document.getElementById('chart'), null, { renderer: 'canvas' });
chart.setOption({
  backgroundColor: '#ffffff',
  animation: false,
  grid: grids.map(function (g) { return Object.assign({ containLabel: false }, g); }),
  xAxis: xAxes,
  yAxis: yAxes,
  series: series
});

// ---------- annotations ----------
function text(x, y, str, opt) {
  opt = opt || {};
  return {
    type: 'text', x: x, y: y, rotation: opt.rotation || 0,
    scaleX: opt.scaleX || 1, silent: true, z: 10,
    style: {
      text: str, x: 0, y: 0,
      fill: opt.color || '#000',
      fontSize: opt.size || 12,
      fontFamily: opt.family || SANS,
      fontWeight: opt.weight || 'normal',
      align: opt.align || 'center',
      verticalAlign: opt.valign || 'middle'
    }
  };
}
function legendBar(x, y, w, h, labelXs, labelY) {
  const seg = w / 3, els = [];
  seriesColors.forEach(function (c, i) {
    els.push({ type: 'rect', silent: true, z: 10, shape: { x: x + i * seg, y: y, width: seg, height: h }, style: { fill: c } });
  });
  els.push({ type: 'rect', silent: true, z: 11, shape: { x: x, y: y, width: w, height: h }, style: { fill: 'none', stroke: '#000', lineWidth: 1 } });
  const mid = x + 1.5 * seg;
  els.push({ type: 'line', silent: true, z: 11, shape: { x1: mid, y1: y, x2: mid, y2: y + 2 }, style: { stroke: '#000', lineWidth: 1 } });
  els.push({ type: 'line', silent: true, z: 11, shape: { x1: mid, y1: y + h - 2, x2: mid, y2: y + h }, style: { stroke: '#000', lineWidth: 1 } });
  seriesNames.forEach(function (n, i) { els.push(text(labelXs[i], labelY, n, { size: 12 })); });
  return els;
}

const graphics = [];
// legends
graphics.push.apply(graphics, legendBar(68, 21, 85, 10, [74, 111, 146], 43));
graphics.push.apply(graphics, legendBar(527, 21, 85, 10, [532.5, 568, 604], 43));
graphics.push.apply(graphics, legendBar(322, 338, 85.5, 10.5, [326.7, 364, 400], 362));
graphics.push.apply(graphics, legendBar(768, 504, 86.5, 10, [767.5, 811, 854], 528));

// roofline notes
const noteYs = [[160, 173, 186, 199.5], [161, 174, 187, 200.5]];
const noteXs = [222.7, 681];
[0, 1].forEach(function (g) {
  roofNotes.forEach(function (t, i) {
    graphics.push(text(noteXs[g], noteYs[g][i], t, { size: 9.5, weight: 'bold', color: '#8a8a8a', align: 'left' }));
  });
});
// ceiling tags at the right edge
const tagYs = [[7, 17, 30, 42.3], [10, 21, 31.7, 42.3]];
const tagXs = [424, 880.5];
[0, 1].forEach(function (g) {
  roofTags.forEach(function (t, i) {
    graphics.push(text(tagXs[g], tagYs[g][i], t, { size: 10, color: '#7a7a7a', align: 'left' }));
  });
});

// axis titles
graphics.push(text(16, 108, 'Performance [GFlops/s]', { size: 14, rotation: Math.PI / 2 }));
graphics.push(text(475, 107, 'Performance [GFlops/s]', { size: 14, rotation: Math.PI / 2 }));
graphics.push(text(238, 252, 'Operational Intensity [flops/byte]', { size: 13 }));
graphics.push(text(695, 252, 'Operational Intensity [flops/byte]', { size: 13 }));
graphics.push(text(18, 438, 'Power [W]', { size: 10.5, rotation: Math.PI / 2 }));
graphics.push(text(474, 441.7, 'Power [W]', { size: 10.5, rotation: Math.PI / 2 }));
graphics.push(text(235, 565.7, 'Time [s]', { size: 11 }));
graphics.push(text(693, 564, 'Time [s]', { size: 11 }));

// captions
const capOpt = { size: 19, family: SERIF, scaleX: 1.13 };
graphics.push(text(223, 285, '(a) Roofline (KerMon)', capOpt));
graphics.push(text(674, 285, '(b) Roofline (SpyMon)', capOpt));
graphics.push(text(222.5, 596, '(c) Power consumption (KerMon)', capOpt));
graphics.push(text(680, 596, '(d) Power consumption (SpyMon)', capOpt));

// slanted bandwidth labels along the SpyMon load rooflines
(function () {
  const finder = { xAxisIndex: 2, yAxisIndex: 2 };
  const p0 = chart.convertToPixel(finder, [-15, -15 + roofBwLog2[0]]);
  const p1 = chart.convertToPixel(finder, [-12, -12 + roofBwLog2[0]]);
  const ang = Math.atan2(p0[1] - p1[1], p1[0] - p0[0]);
  const a = chart.convertToPixel(finder, [-15.37, -15.37 + roofBwLog2[0]]);
  const b = chart.convertToPixel(finder, [-15.2, -15.2 + roofBwLog2[1]]);
  graphics.push(text(a[0], a[1] - 1, 'AVX/SSE L1 LOAD Roofline', { size: 10, color: '#5e5e5e', align: 'left', valign: 'bottom', rotation: ang }));
  graphics.push(text(b[0], b[1] - 0.5, 'DBL L1 LOAD Roofline', { size: 10, color: '#5e5e5e', align: 'left', valign: 'bottom', rotation: ang }));
})();

chart.setOption({ graphic: { elements: graphics } });
</script>
</body>
</html>
